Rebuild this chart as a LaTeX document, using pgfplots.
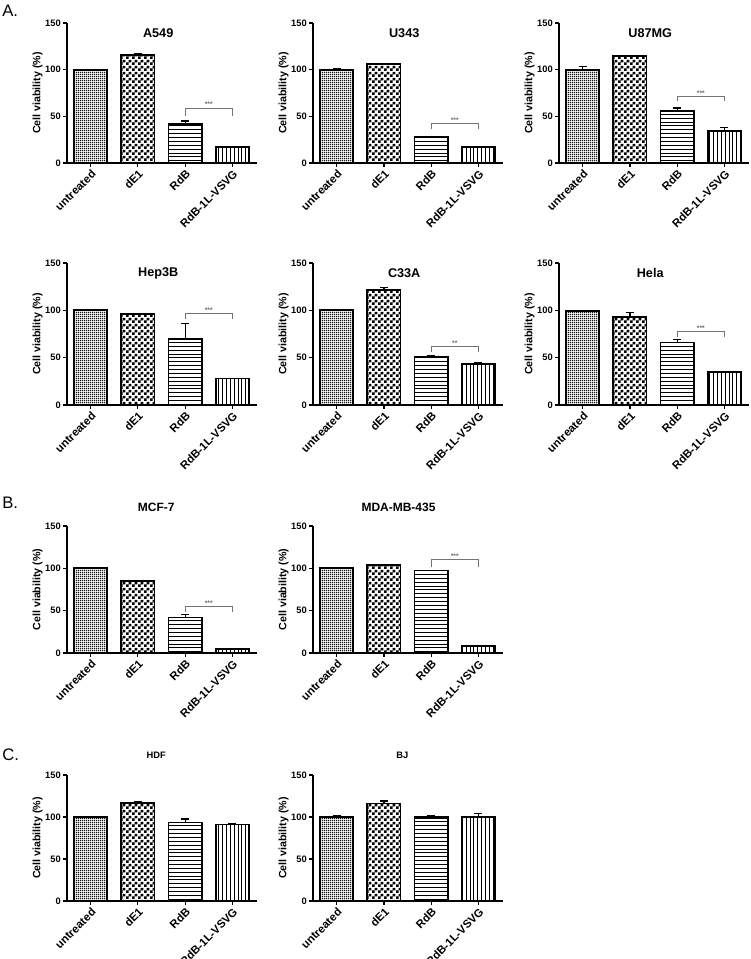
\documentclass[border=0pt]{standalone}
\usepackage{pgfplots}
\pgfplotsset{compat=1.18}
\usepackage{fontspec}
\setmainfont{Liberation Sans}
\usetikzlibrary{patterns}
\newcommand{\fs}[1]{\fontsize{#1}{#1}\selectfont}

\pgfdeclarepatternformonly{finegrid}{\pgfpointorigin}{\pgfpoint{1.5pt}{1.5pt}}{\pgfpoint{1.5pt}{1.5pt}}{%
  \pgfsetlinewidth{0.65pt}%
  \pgfpathmoveto{\pgfpoint{0pt}{0.75pt}}\pgfpathlineto{\pgfpoint{1.5pt}{0.75pt}}%
  \pgfpathmoveto{\pgfpoint{0.75pt}{0pt}}\pgfpathlineto{\pgfpoint{0.75pt}{1.5pt}}%
  \pgfusepath{stroke}}
\pgfdeclarepatternformonly{checker}{\pgfpointorigin}{\pgfpoint{4.5pt}{4.5pt}}{\pgfpoint{4.5pt}{4.5pt}}{%
  \pgfpathrectangle{\pgfpointorigin}{\pgfpoint{2.25pt}{2.25pt}}%
  \pgfpathrectangle{\pgfpoint{2.25pt}{2.25pt}}{\pgfpoint{2.25pt}{2.25pt}}%
  \pgfusepath{fill}}
\pgfdeclarepatternformonly{hlines}{\pgfpoint{-1pt}{0pt}}{\pgfpoint{101pt}{2.9pt}}{\pgfpoint{100pt}{2.9pt}}{%
  \pgfsetlinewidth{0.4pt}%
  \pgfpathmoveto{\pgfpoint{-1pt}{1.45pt}}\pgfpathlineto{\pgfpoint{101pt}{1.45pt}}%
  \pgfusepath{stroke}}
\pgfdeclarepatternformonly{vlines}{\pgfpoint{0pt}{-1pt}}{\pgfpoint{2.9pt}{101pt}}{\pgfpoint{2.9pt}{100pt}}{%
  \pgfsetlinewidth{0.4pt}%
  \pgfpathmoveto{\pgfpoint{1.45pt}{-1pt}}\pgfpathlineto{\pgfpoint{1.45pt}{101pt}}%
  \pgfusepath{stroke}}

\pgfplotsset{
  panel/.style={
    scale only axis, width=142.5pt, anchor=south west,
    axis x line*=bottom, axis y line*=left,
    axis line style={line width=1.3pt, black},
    ymin=0, ymax=150, ytick={0,50,100,150},
    xmin=-0.5, xmax=3.52, xtick={0,1,2,3},
    xticklabels={untreated,dE1,RdB,RdB-1L-VSVG},
    x tick label style={rotate=45, anchor=north east, font=\bfseries\fs{8.5}, inner sep=1pt},
    y tick label style={font=\bfseries\fs{7}, inner sep=1.5pt},
    /pgf/number format/assume math mode=true,
    tick align=outside, major tick length=3pt,
    tick style={line width=0.9pt, black},
    ylabel={Cell viability (\%)},
    ylabel style={font=\bfseries\fs{8}, at={(rel axis cs:-0.155,0.5)}, anchor=center},
    clip=false, ybar,
  },
  b/.style={ybar, draw=black, line width=1.3pt, bar shift=0pt, bar width=0.7,
    pattern color=black,
    error bars/y dir=plus, error bars/y explicit,
    error bars/error bar style={line width=0.9pt, black},
    error bars/error mark options={rotate=90, mark size=3pt, line width=0.9pt, black}},
}
\newcommand{\sig}[3]{%
  \draw[black!55, line width=0.6pt] (axis cs:2,#1) -- (axis cs:2,#2) -- (axis cs:3,#2) -- (axis cs:3,#1);
  \node[black!60, font=\bfseries\fs{5}, anchor=south, inner sep=0.6pt] at (axis cs:2.5,#2) {#3};}

\begin{document}
\begin{tikzpicture}
\path[use as bounding box] (0pt,0pt) rectangle (562.5pt,719.25pt);
\node[anchor=base west, font=\fs{12.5}, inner sep=0pt] at (1.5pt,706.5pt) {A.};
\node[anchor=base west, font=\fs{12.5}, inner sep=0pt] at (1.5pt,337.5pt) {B.};
\node[anchor=base west, font=\fs{12.5}, inner sep=0pt] at (1.5pt,148.5pt) {C.};

% ---------- Row A1 ----------
\begin{axis}[panel, at={(50.25pt,597pt)}, height=105pt]
\addplot[b, pattern=finegrid] coordinates {(0,100) +- (0,0.3)};
\addplot[b, pattern=checker] coordinates {(1,116) +- (0,1)};
\addplot[b, pattern=hlines] coordinates {(2,42) +- (0,3)};
\addplot[b, pattern=vlines] coordinates {(3,17) +- (0,0.3)};
\sig{50}{59}{***}
\node[font=\bfseries\fs{9.5}] at (rel axis cs:0.48,0.93) {A549};
\end{axis}

\begin{axis}[panel, at={(234.75pt,597pt)}, height=105pt]
\addplot[b, pattern=finegrid] coordinates {(0,100) +- (0,1)};
\addplot[b, pattern=checker] coordinates {(1,106) +- (0,0.5)};
\addplot[b, pattern=hlines] coordinates {(2,27.5) +- (0,0.3)};
\addplot[b, pattern=vlines] coordinates {(3,17) +- (0,0.3)};
\sig{36.5}{42}{***}
\node[font=\bfseries\fs{9.5}] at (rel axis cs:0.48,0.93) {U343};
\end{axis}

\begin{axis}[panel, at={(419.25pt,597pt)}, height=105pt]
\addplot[b, pattern=finegrid] coordinates {(0,100) +- (0,3.5)};
\addplot[b, pattern=checker] coordinates {(1,114.5) +- (0,0.5)};
\addplot[b, pattern=hlines] coordinates {(2,55.5) +- (0,3.5)};
\addplot[b, pattern=vlines] coordinates {(3,34) +- (0,4)};
\sig{66}{71}{***}
\node[font=\bfseries\fs{9.5}] at (rel axis cs:0.48,0.93) {U87MG};
\end{axis}

% ---------- Row A2 ----------
\begin{axis}[panel, at={(50.25pt,415.5pt)}, height=106.5pt]
\addplot[b, pattern=finegrid] coordinates {(0,100) +- (0,0.3)};
\addplot[b, pattern=checker] coordinates {(1,96) +- (0,1)};
\addplot[b, pattern=hlines] coordinates {(2,70) +- (0,16)};
\addplot[b, pattern=vlines] coordinates {(3,28) +- (0,0.3)};
\sig{91}{97}{***}
\node[font=\bfseries\fs{9.5}] at (rel axis cs:0.48,0.93) {Hep3B};
\end{axis}

\begin{axis}[panel, at={(234.75pt,415.5pt)}, height=106.5pt]
\addplot[b, pattern=finegrid] coordinates {(0,100) +- (0,0.3)};
\addplot[b, pattern=checker] coordinates {(1,121.5) +- (0,2.5)};
\addplot[b, pattern=hlines] coordinates {(2,51) +- (0,1)};
\addplot[b, pattern=vlines] coordinates {(3,43.5) +- (0,1)};
\sig{56}{62}{**}
\node[font=\bfseries\fs{9.5}] at (rel axis cs:0.48,0.93) {C33A};
\end{axis}

\begin{axis}[panel, at={(419.25pt,415.5pt)}, height=106.5pt]
\addplot[b, pattern=finegrid] coordinates {(0,99.5) +- (0,0.3)};
\addplot[b, pattern=checker] coordinates {(1,93) +- (0,5)};
\addplot[b, pattern=hlines] coordinates {(2,66) +- (0,3.5)};
\addplot[b, pattern=vlines] coordinates {(3,35) +- (0,0.3)};
\sig{72}{78}{***}
\node[font=\bfseries\fs{9.5}] at (rel axis cs:0.48,0.93) {Hela};
\end{axis}

% ---------- Row B ----------
\begin{axis}[panel, at={(50.25pt,229.5pt)}, height=95.25pt]
\addplot[b, pattern=finegrid] coordinates {(0,100) +- (0,0.3)};
\addplot[b, pattern=checker] coordinates {(1,85) +- (0,1)};
\addplot[b, pattern=hlines] coordinates {(2,42) +- (0,3)};
\addplot[b, pattern=vlines] coordinates {(3,5) +- (0,0.3)};
\sig{49}{55}{***}
\node[font=\bfseries\fs{9}] at (rel axis cs:0.47,1.15) {MCF-7};
\end{axis}

\begin{axis}[panel, at={(234.75pt,229.5pt)}, height=95.25pt]
\addplot[b, pattern=finegrid] coordinates {(0,100) +- (0,0.3)};
\addplot[b, pattern=checker] coordinates {(1,104) +- (0,0.3)};
\addplot[b, pattern=hlines] coordinates {(2,97.5) +- (0,0.3)};
\addplot[b, pattern=vlines] coordinates {(3,8) +- (0,0.3)};
\sig{102}{110}{***}
\node[font=\bfseries\fs{9}] at (rel axis cs:0.45,1.15) {MDA-MB-435};
\end{axis}

% ---------- Row C ----------
\begin{axis}[panel, at={(50.25pt,43.5pt)}, height=94.5pt]
\addplot[b, pattern=finegrid] coordinates {(0,100) +- (0,0.3)};
\addplot[b, pattern=checker] coordinates {(1,116.5) +- (0,1.5)};
\addplot[b, pattern=hlines] coordinates {(2,93.5) +- (0,4)};
\addplot[b, pattern=vlines] coordinates {(3,91) +- (0,1)};
\node[font=\bfseries\fs{7}] at (rel axis cs:0.47,1.16) {HDF};
\end{axis}

\begin{axis}[panel, at={(234.75pt,43.5pt)}, height=94.5pt]
\addplot[b, pattern=finegrid] coordinates {(0,100) +- (0,1.5)};
\addplot[b, pattern=checker] coordinates {(1,116) +- (0,3)};
\addplot[b, pattern=hlines] coordinates {(2,100) +- (0,1.5)};
\addplot[b, pattern=vlines] coordinates {(3,100) +- (0,4)};
\node[font=\bfseries\fs{7}] at (rel axis cs:0.47,1.16) {BJ};
\end{axis}
\end{tikzpicture}
\end{document}
